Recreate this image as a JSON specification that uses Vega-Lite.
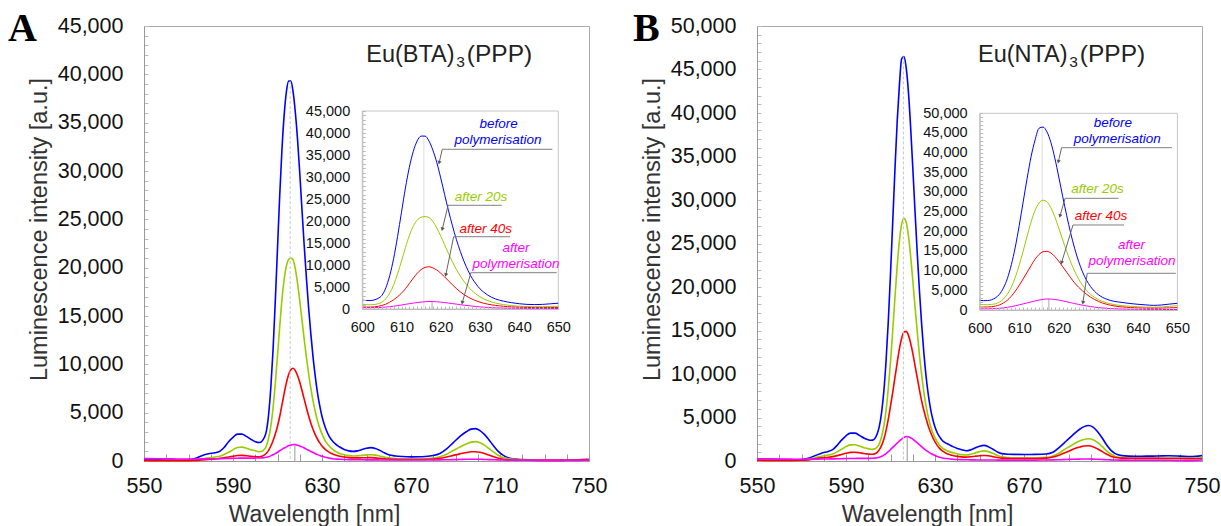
{
  "$schema": "https://vega.github.io/schema/vega-lite/v6.json",
  "padding": {"left": 7, "top": 8, "right": 5, "bottom": 0},
  "spacing": 24,
  "config": {
    "font": "Liberation Sans",
    "view": {"stroke": "#aaaaaa", "strokeWidth": 1},
    "axis": {"grid": false, "labelColor": "#111111", "titleColor": "#333333", "titleFontWeight": "normal", "domainColor": "#999999", "labelFlush": false, "labelOverlap": false}
  },
  "datasets": {
    "euBTA": [
      {"wl":550,"b":150,"g":50,"r":20,"m":250},{"wl":555,"b":120,"g":50,"r":20,"m":240},{"wl":560,"b":100,"g":50,"r":20,"m":220},{"wl":565,"b":100,"g":60,"r":30,"m":210},{"wl":570,"b":120,"g":80,"r":40,"m":200},{"wl":573,"b":250,"g":120,"r":60,"m":205},{"wl":576,"b":550,"g":230,"r":110,"m":215},{"wl":579,"b":750,"g":330,"r":160,"m":225},{"wl":582,"b":850,"g":420,"r":210,"m":235},{"wl":584,"b":1000,"g":500,"r":260,"m":245},{"wl":586,"b":1400,"g":680,"r":330,"m":255},{"wl":588,"b":2000,"g":900,"r":420,"m":265},{"wl":590,"b":2450,"g":1150,"r":500,"m":280},{"wl":592,"b":2780,"g":1400,"r":570,"m":290},{"wl":594,"b":2780,"g":1440,"r":580,"m":295},{"wl":596,"b":2550,"g":1320,"r":540,"m":300},{"wl":598,"b":2250,"g":1170,"r":490,"m":300},{"wl":600,"b":2000,"g":1050,"r":450,"m":300},
      {"wl":601,"b":1930,"g":980,"r":430,"m":305},{"wl":602,"b":1920,"g":960,"r":430,"m":310},{"wl":603,"b":2050,"g":1000,"r":480,"m":320},{"wl":604,"b":2400,"g":1200,"r":600,"m":340},{"wl":605,"b":3100,"g":1550,"r":800,"m":380},{"wl":606,"b":4800,"g":2350,"r":1100,"m":440},{"wl":607,"b":7600,"g":3600,"r":1550,"m":530},{"wl":608,"b":11500,"g":5500,"r":2100,"m":640},{"wl":609,"b":16500,"g":8000,"r":2800,"m":770},{"wl":610,"b":22000,"g":10900,"r":3600,"m":910},{"wl":611,"b":27500,"g":13900,"r":4600,"m":1060},{"wl":612,"b":32200,"g":16700,"r":5800,"m":1200},{"wl":613,"b":35800,"g":18800,"r":7000,"m":1340},{"wl":614,"b":38200,"g":20200,"r":8100,"m":1460},{"wl":615,"b":39300,"g":20850,"r":8950,"m":1570},{"wl":616,"b":39300,"g":21000,"r":9450,"m":1650},{"wl":617,"b":38200,"g":20800,"r":9600,"m":1700},{"wl":618,"b":36100,"g":19900,"r":9350,"m":1690},{"wl":619,"b":33300,"g":18400,"r":8850,"m":1640},{"wl":620,"b":29800,"g":16600,"r":8150,"m":1560},
      {"wl":621,"b":26000,"g":14600,"r":7300,"m":1460},{"wl":622,"b":22300,"g":12600,"r":6400,"m":1350},{"wl":623,"b":18900,"g":10700,"r":5500,"m":1230},{"wl":624,"b":15800,"g":9000,"r":4650,"m":1110},{"wl":625,"b":13100,"g":7500,"r":3900,"m":990},{"wl":626,"b":10700,"g":6200,"r":3250,"m":870},{"wl":627,"b":8700,"g":5100,"r":2700,"m":760},{"wl":628,"b":7000,"g":4150,"r":2250,"m":660},{"wl":629,"b":5700,"g":3400,"r":1870,"m":570},{"wl":630,"b":4600,"g":2800,"r":1560,"m":490},{"wl":631,"b":3800,"g":2300,"r":1300,"m":420},{"wl":632,"b":3150,"g":1900,"r":1100,"m":360},{"wl":633,"b":2650,"g":1600,"r":940,"m":310},{"wl":634,"b":2280,"g":1350,"r":810,"m":270},{"wl":635,"b":2000,"g":1160,"r":710,"m":240},{"wl":636,"b":1780,"g":1000,"r":620,"m":215},{"wl":637,"b":1600,"g":880,"r":550,"m":195},{"wl":638,"b":1450,"g":780,"r":490,"m":180},
      {"wl":640,"b":1200,"g":640,"r":410,"m":160},{"wl":642,"b":1050,"g":560,"r":350,"m":145},{"wl":644,"b":1000,"g":520,"r":320,"m":135},{"wl":646,"b":1050,"g":530,"r":320,"m":130},{"wl":648,"b":1180,"g":580,"r":330,"m":125},{"wl":650,"b":1320,"g":630,"r":340,"m":120},{"wl":652,"b":1380,"g":650,"r":350,"m":120},{"wl":654,"b":1300,"g":610,"r":320,"m":115},{"wl":656,"b":1100,"g":510,"r":270,"m":110},{"wl":658,"b":850,"g":400,"r":230,"m":105},{"wl":660,"b":650,"g":320,"r":200,"m":100},
      {"wl":663,"b":520,"g":260,"r":170,"m":100},{"wl":666,"b":460,"g":230,"r":155,"m":100},{"wl":670,"b":430,"g":220,"r":150,"m":100},{"wl":675,"b":440,"g":230,"r":160,"m":100},{"wl":680,"b":560,"g":300,"r":200,"m":105},{"wl":683,"b":780,"g":430,"r":280,"m":115},{"wl":686,"b":1250,"g":700,"r":420,"m":130},{"wl":689,"b":1900,"g":1080,"r":580,"m":145},{"wl":692,"b":2550,"g":1450,"r":740,"m":160},{"wl":695,"b":3050,"g":1780,"r":880,"m":175},{"wl":697,"b":3300,"g":1950,"r":950,"m":180},{"wl":699,"b":3350,"g":2000,"r":960,"m":180},{"wl":701,"b":3150,"g":1900,"r":900,"m":175},{"wl":703,"b":2750,"g":1650,"r":780,"m":160},{"wl":705,"b":2200,"g":1300,"r":620,"m":145},{"wl":707,"b":1600,"g":950,"r":450,"m":130},{"wl":709,"b":1050,"g":620,"r":300,"m":115},{"wl":711,"b":650,"g":400,"r":200,"m":100},{"wl":714,"b":300,"g":230,"r":120,"m":90},{"wl":717,"b":190,"g":160,"r":90,"m":80},{"wl":720,"b":150,"g":130,"r":80,"m":75},{"wl":725,"b":100,"g":100,"r":70,"m":65},{"wl":730,"b":70,"g":90,"r":60,"m":60},{"wl":735,"b":80,"g":90,"r":60,"m":60},{"wl":740,"b":100,"g":100,"r":70,"m":60},{"wl":745,"b":130,"g":110,"r":100,"m":65},{"wl":750,"b":160,"g":130,"r":150,"m":80}
    ],
    "euNTA": [
      {"wl":550,"b":200,"g":100,"r":50,"m":250},{"wl":555,"b":230,"g":110,"r":50,"m":240},{"wl":560,"b":180,"g":100,"r":50,"m":220},{"wl":565,"b":150,"g":100,"r":60,"m":210},{"wl":570,"b":180,"g":130,"r":80,"m":200},{"wl":573,"b":300,"g":200,"r":130,"m":205},{"wl":576,"b":600,"g":380,"r":250,"m":215},{"wl":579,"b":900,"g":550,"r":360,"m":225},{"wl":582,"b":1100,"g":680,"r":430,"m":235},{"wl":584,"b":1300,"g":800,"r":500,"m":245},{"wl":586,"b":1800,"g":1050,"r":620,"m":255},{"wl":588,"b":2400,"g":1350,"r":750,"m":265},{"wl":590,"b":2900,"g":1650,"r":880,"m":280},{"wl":592,"b":3200,"g":1850,"r":990,"m":290},{"wl":594,"b":3200,"g":1860,"r":1000,"m":295},{"wl":596,"b":2950,"g":1720,"r":950,"m":300},{"wl":598,"b":2650,"g":1520,"r":860,"m":300},{"wl":600,"b":2450,"g":1420,"r":800,"m":300},
      {"wl":601,"b":2380,"g":1360,"r":770,"m":305},{"wl":602,"b":2400,"g":1340,"r":770,"m":315},{"wl":603,"b":2600,"g":1400,"r":830,"m":330},{"wl":604,"b":3100,"g":1600,"r":1000,"m":370},{"wl":605,"b":4000,"g":2000,"r":1300,"m":440},{"wl":606,"b":5600,"g":2800,"r":1800,"m":540},{"wl":607,"b":8000,"g":4000,"r":2500,"m":680},{"wl":608,"b":11500,"g":5800,"r":3500,"m":860},{"wl":609,"b":16000,"g":8300,"r":4800,"m":1070},{"wl":610,"b":21500,"g":11400,"r":6300,"m":1310},{"wl":611,"b":27500,"g":15000,"r":7900,"m":1560},{"wl":612,"b":33500,"g":18800,"r":9600,"m":1810},{"wl":613,"b":39000,"g":22400,"r":11300,"m":2060},{"wl":614,"b":43200,"g":25300,"r":12900,"m":2300},{"wl":615,"b":46200,"g":27200,"r":14100,"m":2520},{"wl":616,"b":46500,"g":27900,"r":14800,"m":2700},{"wl":617,"b":45300,"g":27500,"r":14900,"m":2800},{"wl":618,"b":42600,"g":26000,"r":14500,"m":2780},{"wl":619,"b":38600,"g":23700,"r":13600,"m":2680},{"wl":620,"b":33800,"g":20800,"r":12400,"m":2520},
      {"wl":621,"b":28800,"g":17800,"r":11000,"m":2320},{"wl":622,"b":24000,"g":14900,"r":9600,"m":2100},{"wl":623,"b":19600,"g":12200,"r":8200,"m":1870},{"wl":624,"b":15700,"g":9900,"r":6900,"m":1640},{"wl":625,"b":12400,"g":7900,"r":5800,"m":1420},{"wl":626,"b":9700,"g":6300,"r":4850,"m":1220},{"wl":627,"b":7600,"g":5000,"r":4000,"m":1040},{"wl":628,"b":6000,"g":4000,"r":3300,"m":880},{"wl":629,"b":4800,"g":3250,"r":2700,"m":740},{"wl":630,"b":3900,"g":2650,"r":2200,"m":620},{"wl":631,"b":3250,"g":2200,"r":1800,"m":520},{"wl":632,"b":2800,"g":1850,"r":1480,"m":440},{"wl":633,"b":2450,"g":1580,"r":1230,"m":370},{"wl":634,"b":2200,"g":1380,"r":1040,"m":320},{"wl":635,"b":2050,"g":1230,"r":890,"m":280},{"wl":636,"b":1930,"g":1110,"r":780,"m":250},{"wl":637,"b":1780,"g":1020,"r":700,"m":225},{"wl":638,"b":1650,"g":950,"r":630,"m":205},
      {"wl":640,"b":1450,"g":830,"r":530,"m":175},{"wl":642,"b":1300,"g":730,"r":470,"m":155},{"wl":644,"b":1180,"g":690,"r":450,"m":140},{"wl":646,"b":1280,"g":760,"r":480,"m":130},{"wl":648,"b":1500,"g":930,"r":550,"m":125},{"wl":650,"b":1700,"g":1080,"r":610,"m":120},{"wl":652,"b":1800,"g":1160,"r":640,"m":120},{"wl":654,"b":1650,"g":1080,"r":600,"m":115},{"wl":656,"b":1350,"g":880,"r":500,"m":110},{"wl":658,"b":1050,"g":650,"r":400,"m":105},{"wl":660,"b":850,"g":480,"r":330,"m":100},
      {"wl":663,"b":780,"g":400,"r":300,"m":100},{"wl":666,"b":760,"g":370,"r":280,"m":100},{"wl":670,"b":750,"g":360,"r":280,"m":100},{"wl":675,"b":760,"g":370,"r":290,"m":105},{"wl":680,"b":800,"g":420,"r":330,"m":110},{"wl":683,"b":1000,"g":580,"r":450,"m":125},{"wl":686,"b":1600,"g":950,"r":700,"m":150},{"wl":689,"b":2300,"g":1450,"r":1000,"m":175},{"wl":692,"b":3000,"g":1900,"r":1350,"m":200},{"wl":695,"b":3650,"g":2300,"r":1600,"m":220},{"wl":697,"b":3950,"g":2480,"r":1720,"m":230},{"wl":699,"b":4080,"g":2550,"r":1750,"m":230},{"wl":701,"b":3900,"g":2450,"r":1650,"m":220},{"wl":703,"b":3400,"g":2150,"r":1400,"m":200},{"wl":705,"b":2700,"g":1700,"r":1100,"m":175},{"wl":707,"b":1900,"g":1200,"r":800,"m":150},{"wl":709,"b":1250,"g":800,"r":550,"m":130},{"wl":711,"b":850,"g":520,"r":400,"m":110},{"wl":714,"b":620,"g":390,"r":330,"m":100},{"wl":717,"b":560,"g":350,"r":310,"m":95},{"wl":720,"b":550,"g":340,"r":300,"m":90},{"wl":725,"b":560,"g":330,"r":300,"m":90},{"wl":730,"b":570,"g":330,"r":300,"m":85},{"wl":735,"b":600,"g":340,"r":290,"m":80},{"wl":740,"b":560,"g":340,"r":280,"m":50},{"wl":745,"b":500,"g":350,"r":270,"m":40},{"wl":750,"b":620,"g":400,"r":260,"m":110}
    ],
    "peaksA": [{"wl":615.7,"top":39300,"base":0,"kind":"max"},{"wl":617.8,"top":1700,"base":0,"kind":"min"}],
    "peaksB": [{"wl":615.8,"top":46500,"base":0,"kind":"max"},{"wl":617.5,"top":2800,"base":0,"kind":"min"}],
    "headA": [
      {"part":"lead","text":"Eu(BTA)","wl":689.6,"v":41307},
      {"part":"sub","text":"3","wl":690.3,"v":40728},
      {"part":"tail","text":"(PPP)","wl":695.1,"v":41307}
    ],
    "headB": [
      {"part":"lead","text":"Eu(NTA)","wl":689.6,"v":45895},
      {"part":"sub","text":"3","wl":690.3,"v":45252},
      {"part":"tail","text":"(PPP)","wl":695.1,"v":45895}
    ],
    "frameA": [{"wl0":600,"wl1":650,"v0":0,"v1":45000}],
    "frameB": [{"wl0":600,"wl1":650,"v0":0,"v1":50000}],
    "notesA": [
      {"label":"before","series":"b","wl":634.8,"v":41980},
      {"label":"polymerisation","series":"b","wl":634.6,"v":38400},
      {"label":"after 20s","series":"g","wl":630.3,"v":25530},
      {"label":"after 40s","series":"r","wl":631.5,"v":18100},
      {"label":"after","series":"m","wl":639.2,"v":13800},
      {"label":"polymerisation","series":"m","wl":639.2,"v":10230}
    ],
    "notesB": [
      {"label":"before","series":"b","wl":633.7,"v":47610},
      {"label":"polymerisation","series":"b","wl":634.8,"v":43550},
      {"label":"after 20s","series":"g","wl":629.8,"v":30680},
      {"label":"after 40s","series":"r","wl":630.7,"v":23890},
      {"label":"after","series":"m","wl":638.4,"v":16520},
      {"label":"polymerisation","series":"m","wl":638.5,"v":12540}
    ],
    "ptrA": [
      {"series":"b","x0":648.5,"x1":620.4,"y1":36300,"x2":619.6,"y2":33250},
      {"series":"g","x0":635.6,"x1":621.9,"y1":23570,"x2":620.4,"y2":18115},
      {"series":"r","x0":637.7,"x1":623.3,"y1":16430,"x2":621.3,"y2":7730},
      {"series":"m","x0":649.6,"x1":627.7,"y1":8250,"x2":625.5,"y2":1430}
    ],
    "ptrB": [
      {"series":"b","x0":648.6,"x1":620.7,"y1":41260,"x2":619.9,"y2":37700},
      {"series":"g","x0":635.1,"x1":621.6,"y1":28390,"x2":620.3,"y2":23890},
      {"series":"r","x0":636.5,"x1":623.6,"y1":21610,"x2":620.7,"y2":12030},
      {"series":"m","x0":649.6,"x1":627.2,"y1":9330,"x2":626.1,"y2":1860}
    ]
  },
  "hconcat": [
    {
      "width": 445,
      "height": 435,
      "title": {"text": "A", "anchor": "start", "frame": "group", "font": "Liberation Serif", "fontSize": 40, "fontWeight": "bold", "color": "#000000", "offset": 0, "dx": -136, "dy": 34},
      "resolve": {"scale": {"x": "independent", "y": "independent"}},
      "layer": [
        {
          "data": {"name": "euBTA"},
          "transform": [{"fold": ["b", "g", "r", "m"], "as": ["series", "value"]}],
          "mark": {"type": "line", "strokeWidth": 1.6, "interpolate": "monotone"},
          "encoding": {
            "x": {"field": "wl", "type": "quantitative", "scale": {"domain": [550, 750], "nice": false, "zero": false},
              "axis": {"values": [550,560,570,580,590,600,610,620,630,640,650,660,670,680,690,700,710,720,730,740,750], "labelExpr": "(datum.value - 550) % 40 === 0 ? datum.value : ''", "labelOverlap": false, "tickSize": -7, "tickColor": "#999999", "labelFontSize": 21.5, "labelPadding": 21, "title": "Wavelength [nm]", "titleFontSize": 23, "titleX": 170, "titleY": 60, "titleAlign": "center", "titleBaseline": "alphabetic"}},
            "y": {"field": "value", "type": "quantitative", "scale": {"domain": [0, 45000], "nice": false},
              "axis": {"values": [0,1000,2000,3000,4000,5000,6000,7000,8000,9000,10000,11000,12000,13000,14000,15000,16000,17000,18000,19000,20000,21000,22000,23000,24000,25000,26000,27000,28000,29000,30000,31000,32000,33000,34000,35000,36000,37000,38000,39000,40000,41000,42000,43000,44000,45000], "labelExpr": "datum.value % 5000 === 0 ? format(datum.value, ',') : ''", "labelOverlap": false, "tickSize": -4, "tickColor": "#bbbbbb", "labelFontSize": 21.5, "labelPadding": 25, "title": "Luminescence intensity [a.u.]", "titleFontSize": 23.5, "titleX": -105, "titleY": 203, "titleAlign": "center", "titleBaseline": "middle"}},
            "color": {"field": "series", "type": "nominal", "scale": {"domain": ["b", "g", "r", "m"], "range": ["#0000ff", "#99cc00", "#ff0000", "#ff00ff"]}, "legend": null}
          }
        },
        {
          "data": {"name": "peaksA"},
          "transform": [{"filter": "datum.kind === 'max'"}],
          "mark": {"type": "rule", "color": "#c8c8c8", "strokeWidth": 1, "strokeDash": [3, 2]},
          "encoding": {"x": {"field": "wl", "type": "quantitative", "scale": {"domain": [550, 750], "nice": false, "zero": false}, "axis": null}, "y": {"field": "top", "type": "quantitative", "scale": {"domain": [0, 45000], "nice": false}, "axis": null}, "y2": {"field": "base"}}
        },
        {
          "data": {"name": "peaksA"},
          "transform": [{"filter": "datum.kind === 'min'"}],
          "mark": {"type": "rule", "color": "#999999", "strokeWidth": 1},
          "encoding": {"x": {"field": "wl", "type": "quantitative", "scale": {"domain": [550, 750], "nice": false, "zero": false}, "axis": null}, "y": {"field": "top", "type": "quantitative", "scale": {"domain": [0, 45000], "nice": false}, "axis": null}, "y2": {"field": "base"}}
        },
        {
          "data": {"name": "headA"},
          "transform": [{"filter": "datum.part === 'lead'"}],
          "mark": {"type": "text", "align": "right", "baseline": "alphabetic", "fontSize": 23.5, "color": "#222222"},
          "encoding": {"x": {"field": "wl", "type": "quantitative", "scale": {"domain": [550, 750], "nice": false, "zero": false}, "axis": null}, "y": {"field": "v", "type": "quantitative", "scale": {"domain": [0, 45000], "nice": false}, "axis": null}, "text": {"field": "text", "type": "nominal"}}
        },
        {
          "data": {"name": "headA"},
          "transform": [{"filter": "datum.part === 'sub'"}],
          "mark": {"type": "text", "align": "left", "baseline": "alphabetic", "fontSize": 15.5, "color": "#222222"},
          "encoding": {"x": {"field": "wl", "type": "quantitative", "scale": {"domain": [550, 750], "nice": false, "zero": false}, "axis": null}, "y": {"field": "v", "type": "quantitative", "scale": {"domain": [0, 45000], "nice": false}, "axis": null}, "text": {"field": "text", "type": "nominal"}}
        },
        {
          "data": {"name": "headA"},
          "transform": [{"filter": "datum.part === 'tail'"}],
          "mark": {"type": "text", "align": "left", "baseline": "alphabetic", "fontSize": 24.5, "color": "#222222"},
          "encoding": {"x": {"field": "wl", "type": "quantitative", "scale": {"domain": [550, 750], "nice": false, "zero": false}, "axis": null}, "y": {"field": "v", "type": "quantitative", "scale": {"domain": [0, 45000], "nice": false}, "axis": null}, "text": {"field": "text", "type": "nominal"}}
        },
        {
          "data": {"name": "frameA"},
          "mark": {"type": "rect", "fill": "#ffffff", "stroke": "#c8c8c8", "strokeWidth": 1},
          "encoding": {
            "x": {"field": "wl0", "type": "quantitative", "scale": {"domain": [600, 650], "range": [218.3, 414.3], "nice": false, "zero": false},
              "axis": {"orient": "bottom", "offset": -152, "zindex": 1, "values": [600,601,602,603,604,605,606,607,608,609,610,611,612,613,614,615,616,617,618,619,620,621,622,623,624,625,626,627,628,629,630,631,632,633,634,635,636,637,638,639,640,641,642,643,644,645,646,647,648,649,650], "labelExpr": "datum.value % 10 === 0 ? datum.value : ''", "labelOverlap": false, "tickSize": -3, "tickColor": "#bbbbbb", "domainColor": "#bbbbbb", "labelFontSize": 14.5, "labelPadding": 14, "title": null}},
            "x2": {"field": "wl1"},
            "y": {"field": "v0", "type": "quantitative", "scale": {"domain": [0, 45000], "range": [283, 85], "nice": false},
              "axis": {"orient": "left", "offset": -218.3, "zindex": 1, "values": [0,1000,2000,3000,4000,5000,6000,7000,8000,9000,10000,11000,12000,13000,14000,15000,16000,17000,18000,19000,20000,21000,22000,23000,24000,25000,26000,27000,28000,29000,30000,31000,32000,33000,34000,35000,36000,37000,38000,39000,40000,41000,42000,43000,44000,45000], "labelExpr": "datum.value % 5000 === 0 ? format(datum.value, ',') : ''", "labelOverlap": false, "tickSize": -3, "tickColor": "#bbbbbb", "domainColor": "#bbbbbb", "labelFontSize": 14.5, "labelPadding": 15.6, "title": null}},
            "y2": {"field": "v1"}
          }
        },
        {
          "data": {"name": "peaksA"},
          "transform": [{"filter": "datum.kind === 'max'"}],
          "mark": {"type": "rule", "color": "#dddddd", "strokeWidth": 1},
          "encoding": {"x": {"field": "wl", "type": "quantitative", "scale": {"domain": [600, 650], "range": [218.3, 414.3], "nice": false, "zero": false}, "axis": null}, "y": {"field": "top", "type": "quantitative", "scale": {"domain": [0, 45000], "range": [283, 85], "nice": false}, "axis": null}, "y2": {"field": "base"}}
        },
        {
          "data": {"name": "peaksA"},
          "transform": [{"filter": "datum.kind === 'min'"}],
          "mark": {"type": "rule", "color": "#aaaaaa", "strokeWidth": 1},
          "encoding": {"x": {"field": "wl", "type": "quantitative", "scale": {"domain": [600, 650], "range": [218.3, 414.3], "nice": false, "zero": false}, "axis": null}, "y": {"field": "top", "type": "quantitative", "scale": {"domain": [0, 45000], "range": [283, 85], "nice": false}, "axis": null}, "y2": {"field": "base"}}
        },
        {
          "data": {"name": "euBTA"},
          "transform": [{"filter": "datum.wl >= 600 && datum.wl <= 650"}, {"fold": ["b", "g", "r", "m"], "as": ["series", "value"]}],
          "mark": {"type": "line", "strokeWidth": 1, "interpolate": "monotone"},
          "encoding": {
            "x": {"field": "wl", "type": "quantitative", "scale": {"domain": [600, 650], "range": [218.3, 414.3], "nice": false, "zero": false}, "axis": null},
            "y": {"field": "value", "type": "quantitative", "scale": {"domain": [0, 45000], "range": [283, 85], "nice": false}, "axis": null},
            "color": {"field": "series", "type": "nominal", "legend": null}
          }
        },
        {
          "data": {"name": "ptrA"},
          "mark": {"type": "rule", "color": "#808080", "strokeWidth": 1},
          "encoding": {"x": {"field": "x1", "type": "quantitative", "scale": {"domain": [600, 650], "range": [218.3, 414.3], "nice": false, "zero": false}, "axis": null}, "x2": {"field": "x0"}, "y": {"field": "y1", "type": "quantitative", "scale": {"domain": [0, 45000], "range": [283, 85], "nice": false}, "axis": null}}
        },
        {
          "data": {"name": "ptrA"},
          "mark": {"type": "rule", "color": "#666666", "strokeWidth": 1},
          "encoding": {"x": {"field": "x1", "type": "quantitative", "scale": {"domain": [600, 650], "range": [218.3, 414.3], "nice": false, "zero": false}, "axis": null}, "x2": {"field": "x2"}, "y": {"field": "y1", "type": "quantitative", "scale": {"domain": [0, 45000], "range": [283, 85], "nice": false}, "axis": null}, "y2": {"field": "y2"}}
        },
        {
          "data": {"name": "ptrA"},
          "mark": {"type": "point", "shape": "triangle-down", "filled": true, "size": 18, "angle": 14, "color": "#555555", "opacity": 1},
          "encoding": {"x": {"field": "x2", "type": "quantitative", "scale": {"domain": [600, 650], "range": [218.3, 414.3], "nice": false, "zero": false}, "axis": null}, "y": {"field": "y2", "type": "quantitative", "scale": {"domain": [0, 45000], "range": [283, 85], "nice": false}, "axis": null}}
        },
        {
          "data": {"name": "notesA"},
          "mark": {"type": "text", "fontStyle": "italic", "fontSize": 13.5, "align": "center", "baseline": "middle"},
          "encoding": {
            "x": {"field": "wl", "type": "quantitative", "scale": {"domain": [600, 650], "range": [218.3, 414.3], "nice": false, "zero": false}, "axis": null},
            "y": {"field": "v", "type": "quantitative", "scale": {"domain": [0, 45000], "range": [283, 85], "nice": false}, "axis": null},
            "text": {"field": "label", "type": "nominal"},
            "color": {"field": "series", "type": "nominal", "legend": null}
          }
        }
      ]
    },
    {
      "width": 445,
      "height": 435,
      "title": {"text": "B", "anchor": "start", "frame": "group", "font": "Liberation Serif", "fontSize": 40, "fontWeight": "bold", "color": "#000000", "offset": 0, "dx": -124, "dy": 34},
      "resolve": {"scale": {"x": "independent", "y": "independent"}},
      "layer": [
        {
          "data": {"name": "euNTA"},
          "transform": [{"fold": ["b", "g", "r", "m"], "as": ["series", "value"]}],
          "mark": {"type": "line", "strokeWidth": 1.6, "interpolate": "monotone"},
          "encoding": {
            "x": {"field": "wl", "type": "quantitative", "scale": {"domain": [550, 750], "nice": false, "zero": false},
              "axis": {"values": [550,560,570,580,590,600,610,620,630,640,650,660,670,680,690,700,710,720,730,740,750], "labelExpr": "(datum.value - 550) % 40 === 0 ? datum.value : ''", "labelOverlap": false, "tickSize": -7, "tickColor": "#999999", "labelFontSize": 21.5, "labelPadding": 21, "title": "Wavelength [nm]", "titleFontSize": 23, "titleX": 170, "titleY": 60, "titleAlign": "center", "titleBaseline": "alphabetic"}},
            "y": {"field": "value", "type": "quantitative", "scale": {"domain": [0, 50000], "nice": false},
              "axis": {"values": [0,1000,2000,3000,4000,5000,6000,7000,8000,9000,10000,11000,12000,13000,14000,15000,16000,17000,18000,19000,20000,21000,22000,23000,24000,25000,26000,27000,28000,29000,30000,31000,32000,33000,34000,35000,36000,37000,38000,39000,40000,41000,42000,43000,44000,45000,46000,47000,48000,49000,50000], "labelExpr": "datum.value % 5000 === 0 ? format(datum.value, ',') : ''", "labelOverlap": false, "tickSize": -4, "tickColor": "#bbbbbb", "labelFontSize": 21.5, "labelPadding": 25, "title": "Luminescence intensity [a.u.]", "titleFontSize": 23.5, "titleX": -105, "titleY": 203, "titleAlign": "center", "titleBaseline": "middle"}},
            "color": {"field": "series", "type": "nominal", "scale": {"domain": ["b", "g", "r", "m"], "range": ["#0000ff", "#99cc00", "#ff0000", "#ff00ff"]}, "legend": null}
          }
        },
        {
          "data": {"name": "peaksB"},
          "transform": [{"filter": "datum.kind === 'max'"}],
          "mark": {"type": "rule", "color": "#c8c8c8", "strokeWidth": 1, "strokeDash": [3, 2]},
          "encoding": {"x": {"field": "wl", "type": "quantitative", "scale": {"domain": [550, 750], "nice": false, "zero": false}, "axis": null}, "y": {"field": "top", "type": "quantitative", "scale": {"domain": [0, 50000], "nice": false}, "axis": null}, "y2": {"field": "base"}}
        },
        {
          "data": {"name": "peaksB"},
          "transform": [{"filter": "datum.kind === 'min'"}],
          "mark": {"type": "rule", "color": "#999999", "strokeWidth": 1},
          "encoding": {"x": {"field": "wl", "type": "quantitative", "scale": {"domain": [550, 750], "nice": false, "zero": false}, "axis": null}, "y": {"field": "top", "type": "quantitative", "scale": {"domain": [0, 50000], "nice": false}, "axis": null}, "y2": {"field": "base"}}
        },
        {
          "data": {"name": "headB"},
          "transform": [{"filter": "datum.part === 'lead'"}],
          "mark": {"type": "text", "align": "right", "baseline": "alphabetic", "fontSize": 23.5, "color": "#222222"},
          "encoding": {"x": {"field": "wl", "type": "quantitative", "scale": {"domain": [550, 750], "nice": false, "zero": false}, "axis": null}, "y": {"field": "v", "type": "quantitative", "scale": {"domain": [0, 50000], "nice": false}, "axis": null}, "text": {"field": "text", "type": "nominal"}}
        },
        {
          "data": {"name": "headB"},
          "transform": [{"filter": "datum.part === 'sub'"}],
          "mark": {"type": "text", "align": "left", "baseline": "alphabetic", "fontSize": 15.5, "color": "#222222"},
          "encoding": {"x": {"field": "wl", "type": "quantitative", "scale": {"domain": [550, 750], "nice": false, "zero": false}, "axis": null}, "y": {"field": "v", "type": "quantitative", "scale": {"domain": [0, 50000], "nice": false}, "axis": null}, "text": {"field": "text", "type": "nominal"}}
        },
        {
          "data": {"name": "headB"},
          "transform": [{"filter": "datum.part === 'tail'"}],
          "mark": {"type": "text", "align": "left", "baseline": "alphabetic", "fontSize": 24.5, "color": "#222222"},
          "encoding": {"x": {"field": "wl", "type": "quantitative", "scale": {"domain": [550, 750], "nice": false, "zero": false}, "axis": null}, "y": {"field": "v", "type": "quantitative", "scale": {"domain": [0, 50000], "nice": false}, "axis": null}, "text": {"field": "text", "type": "nominal"}}
        },
        {
          "data": {"name": "frameB"},
          "mark": {"type": "rect", "fill": "#ffffff", "stroke": "#c8c8c8", "strokeWidth": 1},
          "encoding": {
            "x": {"field": "wl0", "type": "quantitative", "scale": {"domain": [600, 650], "range": [222.7, 420.4], "nice": false, "zero": false},
              "axis": {"orient": "bottom", "offset": -151, "zindex": 1, "values": [600,601,602,603,604,605,606,607,608,609,610,611,612,613,614,615,616,617,618,619,620,621,622,623,624,625,626,627,628,629,630,631,632,633,634,635,636,637,638,639,640,641,642,643,644,645,646,647,648,649,650], "labelExpr": "datum.value % 10 === 0 ? datum.value : ''", "labelOverlap": false, "tickSize": -3, "tickColor": "#bbbbbb", "domainColor": "#bbbbbb", "labelFontSize": 14.5, "labelPadding": 14, "title": null}},
            "x2": {"field": "wl1"},
            "y": {"field": "v0", "type": "quantitative", "scale": {"domain": [0, 50000], "range": [284, 87.3], "nice": false},
              "axis": {"orient": "left", "offset": -222.7, "zindex": 1, "values": [0,1000,2000,3000,4000,5000,6000,7000,8000,9000,10000,11000,12000,13000,14000,15000,16000,17000,18000,19000,20000,21000,22000,23000,24000,25000,26000,27000,28000,29000,30000,31000,32000,33000,34000,35000,36000,37000,38000,39000,40000,41000,42000,43000,44000,45000,46000,47000,48000,49000,50000], "labelExpr": "datum.value % 5000 === 0 ? format(datum.value, ',') : ''", "labelOverlap": false, "tickSize": -3, "tickColor": "#bbbbbb", "domainColor": "#bbbbbb", "labelFontSize": 14.5, "labelPadding": 15.6, "title": null}},
            "y2": {"field": "v1"}
          }
        },
        {
          "data": {"name": "peaksB"},
          "transform": [{"filter": "datum.kind === 'max'"}],
          "mark": {"type": "rule", "color": "#dddddd", "strokeWidth": 1},
          "encoding": {"x": {"field": "wl", "type": "quantitative", "scale": {"domain": [600, 650], "range": [222.7, 420.4], "nice": false, "zero": false}, "axis": null}, "y": {"field": "top", "type": "quantitative", "scale": {"domain": [0, 50000], "range": [284, 87.3], "nice": false}, "axis": null}, "y2": {"field": "base"}}
        },
        {
          "data": {"name": "peaksB"},
          "transform": [{"filter": "datum.kind === 'min'"}],
          "mark": {"type": "rule", "color": "#aaaaaa", "strokeWidth": 1},
          "encoding": {"x": {"field": "wl", "type": "quantitative", "scale": {"domain": [600, 650], "range": [222.7, 420.4], "nice": false, "zero": false}, "axis": null}, "y": {"field": "top", "type": "quantitative", "scale": {"domain": [0, 50000], "range": [284, 87.3], "nice": false}, "axis": null}, "y2": {"field": "base"}}
        },
        {
          "data": {"name": "euNTA"},
          "transform": [{"filter": "datum.wl >= 600 && datum.wl <= 650"}, {"fold": ["b", "g", "r", "m"], "as": ["series", "value"]}],
          "mark": {"type": "line", "strokeWidth": 1, "interpolate": "monotone"},
          "encoding": {
            "x": {"field": "wl", "type": "quantitative", "scale": {"domain": [600, 650], "range": [222.7, 420.4], "nice": false, "zero": false}, "axis": null},
            "y": {"field": "value", "type": "quantitative", "scale": {"domain": [0, 50000], "range": [284, 87.3], "nice": false}, "axis": null},
            "color": {"field": "series", "type": "nominal", "legend": null}
          }
        },
        {
          "data": {"name": "ptrB"},
          "mark": {"type": "rule", "color": "#808080", "strokeWidth": 1},
          "encoding": {"x": {"field": "x1", "type": "quantitative", "scale": {"domain": [600, 650], "range": [222.7, 420.4], "nice": false, "zero": false}, "axis": null}, "x2": {"field": "x0"}, "y": {"field": "y1", "type": "quantitative", "scale": {"domain": [0, 50000], "range": [284, 87.3], "nice": false}, "axis": null}}
        },
        {
          "data": {"name": "ptrB"},
          "mark": {"type": "rule", "color": "#666666", "strokeWidth": 1},
          "encoding": {"x": {"field": "x1", "type": "quantitative", "scale": {"domain": [600, 650], "range": [222.7, 420.4], "nice": false, "zero": false}, "axis": null}, "x2": {"field": "x2"}, "y": {"field": "y1", "type": "quantitative", "scale": {"domain": [0, 50000], "range": [284, 87.3], "nice": false}, "axis": null}, "y2": {"field": "y2"}}
        },
        {
          "data": {"name": "ptrB"},
          "mark": {"type": "point", "shape": "triangle-down", "filled": true, "size": 18, "angle": 14, "color": "#555555", "opacity": 1},
          "encoding": {"x": {"field": "x2", "type": "quantitative", "scale": {"domain": [600, 650], "range": [222.7, 420.4], "nice": false, "zero": false}, "axis": null}, "y": {"field": "y2", "type": "quantitative", "scale": {"domain": [0, 50000], "range": [284, 87.3], "nice": false}, "axis": null}}
        },
        {
          "data": {"name": "notesB"},
          "mark": {"type": "text", "fontStyle": "italic", "fontSize": 13.5, "align": "center", "baseline": "middle"},
          "encoding": {
            "x": {"field": "wl", "type": "quantitative", "scale": {"domain": [600, 650], "range": [222.7, 420.4], "nice": false, "zero": false}, "axis": null},
            "y": {"field": "v", "type": "quantitative", "scale": {"domain": [0, 50000], "range": [284, 87.3], "nice": false}, "axis": null},
            "text": {"field": "label", "type": "nominal"},
            "color": {"field": "series", "type": "nominal", "legend": null}
          }
        }
      ]
    }
  ]
}
